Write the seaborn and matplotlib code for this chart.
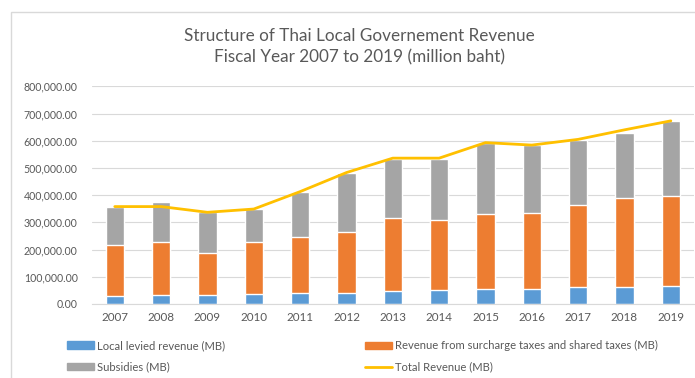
import numpy as np
import pandas as pd
import matplotlib
matplotlib.use("Agg")
import matplotlib.pyplot as plt
from matplotlib.patches import Patch, Rectangle
from matplotlib.lines import Line2D
from matplotlib.ticker import FuncFormatter
import seaborn as sns

years = ["2007", "2008", "2009", "2010", "2011", "2012", "2013",
         "2014", "2015", "2016", "2017", "2018", "2019"]
local_levied = [30000, 34000, 34000, 37000, 39000, 42000, 47000,
                51000, 55000, 55000, 61000, 64000, 67000]
shared_taxes = [187000, 195000, 152000, 192000, 208000, 224000, 268000,
                258000, 277000, 281000, 303000, 327000, 329000]
subsidies = [141000, 147000, 151000, 120000, 164000, 214000, 219000,
             224000, 259000, 247000, 239000, 239000, 276000]
total_revenue = [358000, 358000, 337000, 349000, 413000, 483000, 536000,
                 536000, 593000, 584000, 605000, 640000, 673000]

labels = ["Local levied revenue (MB)",
          "Revenue from surcharge taxes and shared taxes (MB)",
          "Subsidies (MB)",
          "Total Revenue (MB)"]
c_blue, c_orange, c_gray, c_line = "#5B9BD5", "#ED7D31", "#A5A5A5", "#FFC000"
txt = "#595959"

df = pd.DataFrame({"year": years, "local": local_levied,
                   "shared": shared_taxes, "subs": subsidies,
                   "total": total_revenue})
df["top_orange"] = df["local"] + df["shared"]
df["top_gray"] = df["top_orange"] + df["subs"]

sns.set_theme(style="white")
plt.rcParams["font.family"] = ["Lato", "DejaVu Sans"]

fig = plt.figure(figsize=(6.95, 3.78), dpi=100)
ax = fig.add_axes([91.6 / 695, 74 / 378, (694 - 91.6) / 695, (304 - 86.3) / 378])

sns.barplot(data=df, x="year", y="top_gray", color=c_gray, width=0.4,
            saturation=1, ax=ax, zorder=2)
sns.barplot(data=df, x="year", y="top_orange", color=c_orange, width=0.4,
            saturation=1, ax=ax, zorder=2)
sns.barplot(data=df, x="year", y="local", color=c_blue, width=0.4,
            saturation=1, ax=ax, zorder=2)
sns.lineplot(data=df, x="year", y="total", color=c_line, linewidth=2.0,
             sort=False, ax=ax, zorder=3)

ax.set_ylim(0, 800000)
ax.set_xlim(-0.5, len(years) - 0.5)
ax.set_yticks(np.arange(0, 800001, 100000))
ax.yaxis.set_major_formatter(FuncFormatter(lambda v, p: f"{v:,.2f}"))
ax.grid(axis="y", color="#D9D9D9", linewidth=0.8, zorder=0)
ax.set_axisbelow(True)
for s in ["top", "right", "left"]:
    ax.spines[s].set_visible(False)
ax.spines["bottom"].set_color("#D9D9D9")
ax.spines["bottom"].set_linewidth(0.8)
ax.set_xlabel("")
ax.set_ylabel("")
ax.tick_params(axis="y", labelsize=7.6, colors=txt, length=0, pad=10)
ax.tick_params(axis="x", labelsize=8.4, colors=txt, length=0, pad=6)

fig.text(359 / 695, 1 - 46.5 / 378,
         "Structure of Thai Local Governement Revenue\nFiscal Year 2007 to 2019 (million baht)",
         ha="center", va="center", fontsize=12.3, color=txt, linespacing=1.4)

h_local = Patch(color=c_blue)
h_shared = Patch(color=c_orange)
h_subs = Patch(color=c_gray)
h_total = Line2D([], [], color=c_line, linewidth=2.0)

kw = dict(frameon=False, fontsize=8.1, labelcolor=txt, handlelength=2.4,
          handleheight=0.6, handletextpad=0.3, labelspacing=0.95,
          borderaxespad=0, borderpad=0, loc="upper left")
leg1 = fig.legend([h_local, h_subs], [labels[0], labels[2]],
                  bbox_to_anchor=(67 / 695, 1 - 340 / 378), **kw)
leg2 = fig.legend([h_shared, h_total], [labels[1], labels[3]],
                  bbox_to_anchor=(365 / 695, 1 - 340 / 378), **kw)

fig.patches.append(Rectangle((11 / 695, -0.1), 1.2, 1 - 12 / 378 + 0.1,
                             transform=fig.transFigure, fill=False,
                             edgecolor="#D9D9D9", linewidth=1))

fig.savefig("out.png", dpi=100, facecolor="white")
